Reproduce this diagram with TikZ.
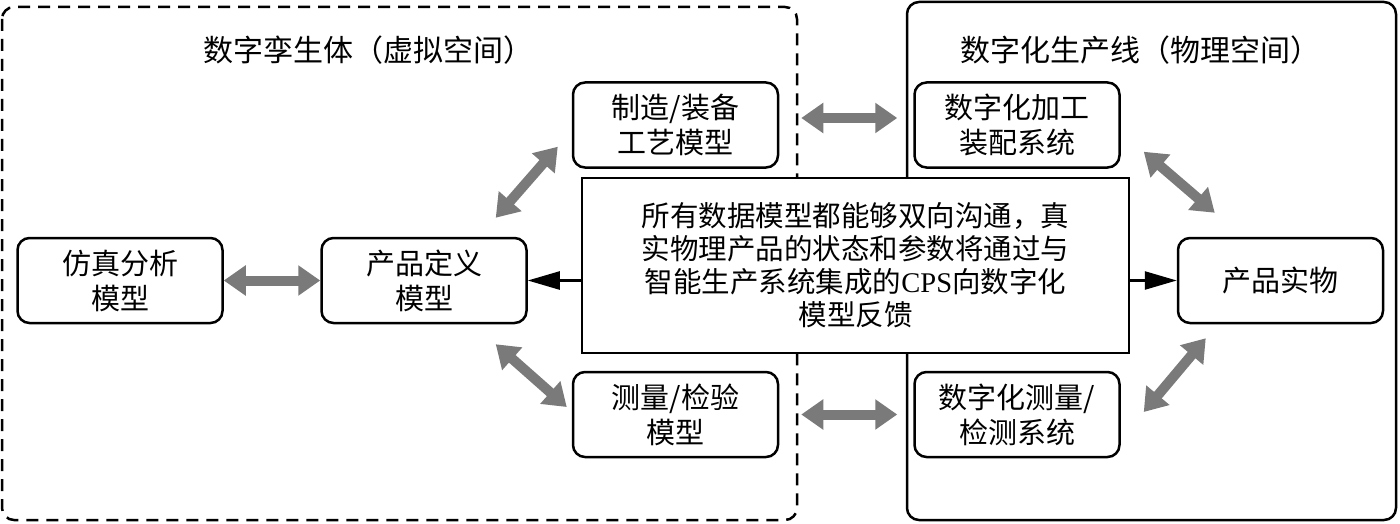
\documentclass[tikz,border=0pt]{standalone}
\usepackage{fontspec}
\setmainfont{Noto Sans CJK SC}
\newfontfamily\latinserif{Liberation Serif}
\usetikzlibrary{arrows.meta}
\definecolor{arrowgray}{HTML}{7A7A7A}
\begin{document}
\begin{tikzpicture}[x=1pt,y=-1pt,
  box/.style={draw, line width=2.5pt, rounded corners=12pt, minimum width=205pt,
    minimum height=85pt, align=center, inner sep=0pt, fill=white,
    font=\fontsize{29}{35}\selectfont},
  region/.style={line width=2.5pt, rounded corners=12pt},
  title/.style={font=\fontsize{30}{33}\selectfont, inner sep=0pt},
  fat/.style={draw=arrowgray, line width=10pt,
    {Triangle[length=22pt,width=29pt]}-{Triangle[length=22pt,width=29pt]}},
  feed/.style={draw, line width=2.5pt, -{Triangle[length=32pt,width=18pt]}}]
\useasboundingbox (0,0) rectangle (1400,524);
% regions
\draw[region, dashed, dash pattern=on 12pt off 8pt] (2,7) rectangle (797,520);
\draw[region] (907,2) rectangle (1396,520);
\node[title] (tl) at (368,50) {数字孪生体（虚拟空间）};
\node[title] (tr) at (1140,50) {数字化生产线（物理空间）};
% nodes
\node[box] (sim) at (120,280.5) {仿真分析\\模型};
\node[box] (pd) at (424,280.5) {产品定义\\模型};
\node[box] (mfg) at (675.5,125) {制造/装备\\工艺模型};
\node[box] (msr) at (675.5,414.5) {测量/检验\\模型};
\node[box] (dproc) at (1017,125) {数字化加工\\装配系统};
\node[box] (dmsr) at (1017,414.5) {数字化测量/\\检测系统};
\node[box] (prod) at (1280.5,280.5) {产品实物};
\node[draw, line width=2.5pt, fill=white, minimum width=547pt, minimum height=175pt,
  align=center, inner sep=0pt, font=\fontsize{28.5}{33}\selectfont] (ctr) at (855.5,265.5)
  {所有数据模型都能够双向沟通，真\\实物理产品的状态和参数将通过与\\智能生产系统集成的{\latinserif CPS}向数字化\\模型反馈};
% gray double arrows
\draw[fat] (sim) -- (pd);
\draw[fat] ([shift={(22,-7)}]mfg.east) -- ([shift={(-16,-7)}]dproc.west);
\draw[fat] ([shift={(22,0)}]msr.east) -- ([shift={(-16,0)}]dmsr.west);
\draw[fat] ([shift={(-32,-19)}]pd.north east) -- ([shift={(-14,-22)}]mfg.south west);
\draw[fat] ([shift={(-32,20)}]pd.south east) -- ([shift={(-5,-7.5)}]msr.west);
\draw[fat] ([shift={(23,-17)}]dproc.south east) -- ([shift={(38,-24)}]prod.north west);
\draw[fat] ([shift={(29,14)}]prod.south west) -- ([shift={(23,-2.5)}]dmsr.east);
% feedback arrows
\draw[feed] (ctr.west |- pd.east) -- (pd.east);
\draw[feed] (ctr.east |- prod.west) -- (prod.west);
\end{tikzpicture}
\end{document}
